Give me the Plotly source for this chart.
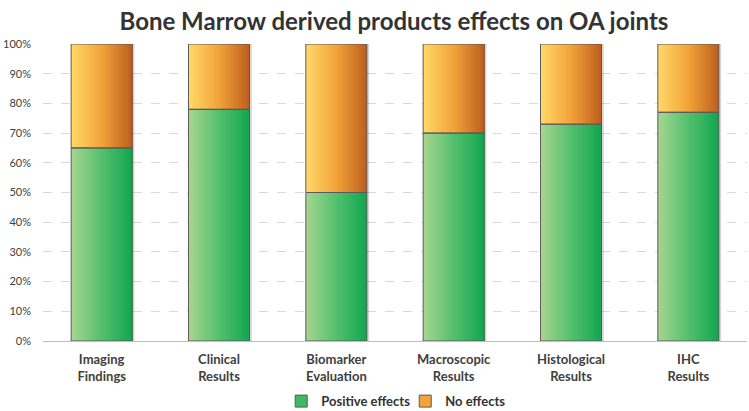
import plotly.graph_objects as go

categories = ["Imaging<br>Findings", "Clinical<br>Results", "Biomarker<br>Evaluation",
              "Macroscopic<br>Results", "Histological<br>Results", "IHC<br>Results"]
positive_effects = [0.65, 0.78, 0.50, 0.70, 0.73, 0.77]
no_effects = [round(1 - v, 2) for v in positive_effects]
y_ticks = [i / 10 for i in range(11)]

BAR_W = 0.52
N = 30


def lerp(stops, t):
    for (t0, c0), (t1, c1) in zip(stops, stops[1:]):
        if t <= t1:
            f = (t - t0) / (t1 - t0) if t1 > t0 else 0
            return "rgb(%d,%d,%d)" % tuple(round(a + (b - a) * f) for a, b in zip(c0, c1))
    return "rgb(%d,%d,%d)" % stops[-1][1]


green_stops = [(0.0, (168, 214, 145)), (0.5, (84, 192, 110)), (1.0, (18, 166, 80))]
orange_stops = [(0.0, (255, 218, 104)), (0.5, (243, 163, 58)), (1.0, (190, 94, 30))]

fig = go.Figure()

# shadow
fig.add_trace(go.Bar(x=categories, y=[p + n for p, n in zip(positive_effects, no_effects)],
                     width=BAR_W, offset=-BAR_W / 2 + 0.02,
                     marker=dict(color="rgba(0,0,0,0.16)", line=dict(width=0)),
                     showlegend=False, hoverinfo="skip"))

sw = BAR_W / N
for i in range(N):
    t = (i + 0.5) / N
    off = -BAR_W / 2 + i * sw
    w = BAR_W - i * sw
    fig.add_trace(go.Bar(x=categories, y=positive_effects, width=w, offset=off,
                         marker=dict(color=lerp(green_stops, t), line=dict(width=0)),
                         name="Positive effects", showlegend=False, hoverinfo="skip"))
    fig.add_trace(go.Bar(x=categories, y=no_effects, base=positive_effects, width=w, offset=off,
                         marker=dict(color=lerp(orange_stops, t), line=dict(width=0)),
                         name="No effects", showlegend=False, hoverinfo="skip"))

# outlines
fig.add_trace(go.Bar(x=categories, y=positive_effects, width=BAR_W, offset=-BAR_W / 2,
                     marker=dict(color="rgba(0,0,0,0)", line=dict(color="#5a5a5a", width=1)),
                     showlegend=False, name="Positive effects"))
fig.add_trace(go.Bar(x=categories, y=no_effects, base=positive_effects, width=BAR_W, offset=-BAR_W / 2,
                     marker=dict(color="rgba(0,0,0,0)", line=dict(color="#5a5a5a", width=1)),
                     showlegend=False, name="No effects"))

# legend entries
fig.add_trace(go.Bar(x=[None], y=[None], name="<b>Positive effects</b>",
                     marker=dict(color="rgb(60,185,100)", line=dict(color="#5a5a5a", width=1))))
fig.add_trace(go.Bar(x=[None], y=[None], name="<b>No effects</b>",
                     marker=dict(color="rgb(243,163,58)", line=dict(color="#5a5a5a", width=1))))

fig.update_layout(
    barmode="overlay",
    width=749, height=411,
    margin=dict(l=0, r=0, t=44, b=70, autoexpand=False),
    paper_bgcolor="white", plot_bgcolor="white",
    font=dict(family="Lato", size=12, color="#404040"),
    title=dict(text="<b>Bone Marrow derived products effects on OA joints</b>",
               x=0.526, xanchor="center", y=0.968, yanchor="top",
               font=dict(family="Lato", size=24, color="#333333")),
    legend=dict(orientation="h", x=0.541, xanchor="center", y=-0.152, yanchor="top",
                font=dict(family="Lato", size=13, color="#333333"), traceorder="normal",
                itemwidth=30, entrywidth=79),
    xaxis=dict(showgrid=False, showline=True, linecolor="#bfbfbf", linewidth=1,
               domain=[43 / 749, 747 / 749],
               ticks="", tickfont=dict(family="Lato", size=13, color="#404040"),
               range=[-0.5, 5.5], automargin=False, ticklabelstandoff=6),
    yaxis=dict(range=[0, 1], tickvals=y_ticks, tickformat=".0%", showgrid=True,
               gridcolor="#d9d9d9", griddash="dash", gridwidth=1, zeroline=False,
               ticks="", ticklen=0, automargin=False, ticklabelstandoff=11,
               tickfont=dict(family="Lato", size=11, color="#404040")),
)
fig.update_xaxes(tickprefix="<b>", ticksuffix="</b>")
fig.update_yaxes(tickprefix="<b>", ticksuffix="</b>")
fig.write_html("out.html", config={"displayModeBar": False},
               post_script="document.body.style.margin='0';")
